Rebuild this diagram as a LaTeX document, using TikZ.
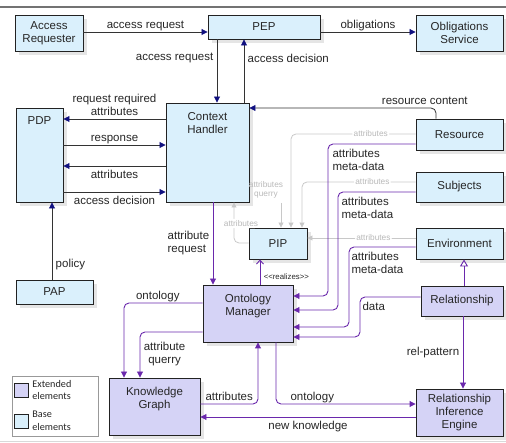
\documentclass[tikz,border=0pt]{standalone}
\usepackage{fontspec}
\setmainfont{Liberation Sans}
\newfontfamily\legfont{Carlito}
\usetikzlibrary{arrows.meta,shadows}
\definecolor{basefill}{RGB}{218,240,252}
\definecolor{extfill}{RGB}{213,211,246}
\definecolor{violetline}{RGB}{106,40,172}
\definecolor{tipblue}{RGB}{16,16,128}
\definecolor{lightline}{RGB}{200,200,200}
\definecolor{lighttext}{RGB}{185,185,185}
\definecolor{boxline}{RGB}{34,34,34}

\begin{document}
\begin{tikzpicture}[x=1pt, y=-1pt,
  every node/.style={font=\fontsize{11.5}{13}\selectfont, text=black!85},
  box/.style={draw=boxline, line width=0.9pt, align=center, inner sep=2pt,
    drop shadow={shadow xshift=4pt, shadow yshift=-4pt, fill=black!10, opacity=1}},
  basebox/.style={box, fill=basefill},
  extbox/.style={box, fill=extfill},
  toptext/.style={label={[align=center, anchor=north, yshift=-6pt]north:#1}},
  abovelbl/.style={above, text depth=0pt},
  basearrow/.style={draw=black!80, line width=0.8pt, -{Triangle[length=6pt, width=6pt, color=tipblue]}},
  violetarrow/.style={draw=violetline, line width=0.9pt, rounded corners=5pt, -{Triangle[length=6pt, width=6pt]}},
  lightarrow/.style={draw=lightline, line width=0.8pt, rounded corners=5pt, -{Triangle[length=5pt, width=5pt]}},
  lightlabel/.style={text=lighttext, font=\fontsize{8.3}{9.5}\selectfont, fill=white, inner sep=1.5pt}]
	\useasboundingbox (0,0) rectangle (506,443);
	\draw[black!55, line width=1.2pt] (0,7) -- (506,7);
	\draw[black!15, line width=0.6pt] (0,441) -- (506,441);

	% base elements
	\node[basebox, minimum width=68, minimum height=36] (req) at (49,33) {Access\\Requester};
	\node[basebox, minimum width=112, minimum height=24] (pep) at (264,27) {PEP};
	\node[basebox, minimum width=87, minimum height=36] (obl) at (459.5,33) {Obligations\\Service};
	\node[basebox, minimum width=83, minimum height=99, toptext={Context\\Handler}] (ctx) at (207.5,152.5) {};
	\node[basebox, minimum width=47, minimum height=94, toptext=PDP] (pdp) at (39.5,155) {};
	\node[basebox, minimum width=77, minimum height=24] (pap) at (54.5,292) {PAP};
	\node[basebox, minimum width=87, minimum height=31] (res) at (459.5,134.5) {Resource};
	\node[basebox, minimum width=87, minimum height=30] (subj) at (459.5,187) {Subjects};
	\node[basebox, minimum width=87, minimum height=31] (env) at (459.5,243.5) {Environment};
	\node[basebox, minimum width=58, minimum height=31] (pip) at (278,243.5) {PIP};

	% extended elements
	\node[extbox, minimum width=82, minimum height=30] (rel) at (462,301) {Relationship};
	\node[extbox, minimum width=90, minimum height=57, toptext={Ontology\\Manager}] (onto) at (248,313.5) {};
	\node[extbox, minimum width=91, minimum height=57, toptext={Knowledge\\Graph}] (kg) at (154.5,406.5) {};
	\node[extbox, minimum width=87, minimum height=47] (rie) at (459.5,412.5) {Relationship\\Inference\\Engine};

	% legend
	\node[draw=black!40, line width=0.7pt, minimum width=86, minimum height=60] (legend) at (55,406) {};
	\node[draw=boxline, fill=extfill, minimum width=14, minimum height=14, inner sep=0pt] (extkey) at (21,390) {};
	\node[draw=boxline, fill=basefill, minimum width=14, minimum height=14, inner sep=0pt] (basekey) at (21,421) {};
	\node[anchor=west, align=left, font=\legfont\fontsize{10.2}{12}\selectfont, inner sep=1pt, xshift=3pt] (extlbl) at (extkey.east) {Extended\\elements};
	\node[anchor=west, align=left, font=\legfont\fontsize{10.2}{13}\selectfont, inner sep=1pt, xshift=3pt] (baselbl) at (basekey.east) {Base\\elements};

	% XACML flows
	\draw[basearrow] (req.east |- 0,32) -- (pep.west |- 0,32) node[midway, abovelbl] {access request};
	\draw[basearrow] (pep.east |- 0,32) -- (obl.west |- 0,32) node[midway, abovelbl] {obligations};
	\draw[basearrow] (pep.south -| 217,0) -- (ctx.north -| 217,0) node[pos=0.3, left] {access request};
	\draw[basearrow] (ctx.north -| 244,0) -- (pep.south -| 244,0) node[pos=0.7, right] {access decision};
	\draw[basearrow] (ctx.west |- 0,119) -- (pdp.east |- 0,119) node[midway, abovelbl, align=center] {request required\\attributes};
	\draw[basearrow] (pdp.east |- 0,145) -- (ctx.west |- 0,145) node[midway, abovelbl] {response};
	\draw[basearrow] (ctx.west |- 0,166) -- (pdp.east |- 0,166) node[midway, below] {attributes};
	\draw[basearrow] (pdp.east |- 0,192) -- (ctx.west |- 0,192) node[midway, below] {access decision};
	\draw[basearrow] (pap.north -| 52,0) -- (pdp.south -| 52,0) node[pos=0.2, right] {policy};
	\draw[basearrow, rounded corners=5pt] (res.north -| 436,0) |- (ctx.east |- 0,108) node[pos=0.53, abovelbl] {resource content};

	% attributes to the PIP
	\draw[lightarrow] (res.west |- 0,134) -| (pip.north -| 291,0) node[pos=0.18, lightlabel] {attributes};
	\draw[lightarrow] (subj.west |- 0,182) -| (pip.north -| 302,0) node[pos=0.19, lightlabel] {attributes};
	\draw[lightarrow] (env.west |- 0,238) -- (pip.east |- 0,238) node[pos=0.39, lightlabel] {attributes};
	\node[lightlabel, fill=none, align=center] (querylbl) at (266,190) {attributes\\querry};
	\coordinate (queryend) at (281,203);
	\draw[lightarrow] (queryend) -- (pip.north -| queryend);
	\draw[lightarrow] (pip.west |- 0,243) -| (ctx.south -| 234,0) node[pos=0.74, lightlabel, xshift=7pt] {attributes};

	% ontology extension
	\draw[violetarrow] (ctx.south -| 213,0) -- (onto.north -| 213,0) node[midway, left, align=left] {attribute\\request};
	\draw[violetline, line width=0.9pt, -{Straight Barb[length=4pt, width=7pt]}] (onto.north -| 260,0) -- (pip.south -| 260,0)
		node[pos=0.3, right, font=\fontsize{7.8}{9}\selectfont] {<\kern0pt<realizes>\kern0pt>};
	\draw[violetarrow] (res.west |- 0,144) -- (328,144) -- (328,296) -- (onto.east |- 0,296);
	\node[anchor=north west, align=left] (resmeta) at (329,146) {attributes\\meta-data};
	\draw[violetarrow] (subj.west |- 0,192) -- (338,192) -- (338,310) -- (onto.east |- 0,310);
	\node[anchor=north west, align=left] (subjmeta) at (338,194) {attributes\\meta-data};
	\draw[violetarrow] (env.west |- 0,247) -- (349,247) -- (349,327) -- (onto.east |- 0,327);
	\node[anchor=north west, align=left] (envmeta) at (348,249) {attributes\\meta-data};
	\draw[violetarrow] (rel.west |- 0,297) -- (360,297) -- (360,337) -- (onto.east |- 0,337);
	\node[anchor=north west] (datalbl) at (359,299) {data};
	\draw[violetline, line width=0.9pt, -{Triangle[open, length=7pt, width=8pt]}] (rel.north -| 464,0) -- (env.south -| 464,0);
	\draw[violetarrow] (rel.south -| 463,0) -- (rie.north -| 463,0) node[midway, left] {rel-pattern};
	\draw[violetarrow] (onto.south -| 276,0) |- (rie.west |- 0,404) node[pos=0.63, abovelbl] {ontology};
	\draw[violetarrow] (rie.west |- 0,417) -- (kg.east |- 0,417) node[midway, below] {new knowledge};
	\draw[violetarrow] (kg.east |- 0,404) -| (onto.south -| 258,0) node[pos=0.25, abovelbl] {attributes};
	\draw[violetarrow] (onto.west |- 0,303) -| (kg.north -| 124,0) node[pos=0.285, abovelbl] {ontology};
	\draw[violetarrow] (onto.west |- 0,332) -| (kg.north -| 140,0) node[pos=0.74, right, align=center] {attribute\\querry};
\end{tikzpicture}
\end{document}
